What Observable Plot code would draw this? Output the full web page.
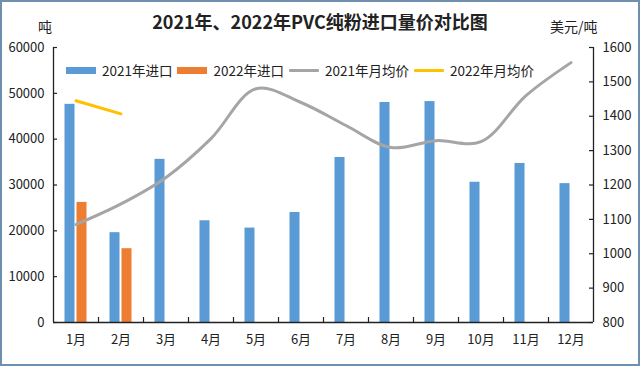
<!DOCTYPE html>
<html><head><meta charset="utf-8">
<script src="https://cdn.jsdelivr.net/npm/d3@7"></script>
<script src="https://cdn.jsdelivr.net/npm/@observablehq/plot@0.6"></script>
<style>
html,body{margin:0;padding:0;background:#fff;}
#wrap{position:relative;width:640px;height:366px;overflow:hidden;font-family:"Noto Sans CJK SC","Noto Sans",sans-serif;color:#222;}
#border{position:absolute;left:0;top:0;width:636px;height:362px;border:2px solid #6f8fae;pointer-events:none;}
#chart{position:absolute;left:0;top:0;}
#title{position:absolute;left:0;width:640px;top:8px;text-align:center;font-weight:bold;font-size:18px;line-height:26px;}
.unit{position:absolute;top:16px;font-size:14px;line-height:20px;}
#legend{position:absolute;left:66px;top:60px;display:flex;align-items:center;font-size:13.5px;line-height:20px;}
#legend .sw{width:30px;height:7px;margin-right:6px;}
#legend .ln{width:30px;height:3px;margin-right:6px;border-radius:1px;}
#legend span.t{margin-right:5px;white-space:nowrap;}
</style></head>
<body>
<div id="wrap">
  <div id="chart"></div>
  <div id="title">2021年、2022年PVC纯粉进口量价对比图</div>
  <div class="unit" style="left:38px">吨</div>
  <div class="unit" style="left:550px">美元/吨</div>
  <div id="legend"></div>
  <div id="border"></div>
</div>
<script>
const months = ["1月","2月","3月","4月","5月","6月","7月","8月","9月","10月","11月","12月"];
const import2021 = [47600,19600,35600,22200,20600,24000,36000,48000,48200,30600,34700,30300];
const import2022 = [26200,16100];
const price2021 = [1085,1145,1222,1335,1480,1440,1373,1309,1329,1326,1460,1556];
const price2022 = [1445,1407];
const leftTicks = [0,10000,20000,30000,40000,50000,60000];
const rightTicks = [800,900,1000,1100,1200,1300,1400,1500,1600];
const seriesNames = ["2021年进口","2022年进口","2021年月均价","2022年月均价"];
const colors = ["#5B9BD5","#ED7D31","#A5A5A5","#FFC000"];

const toY = p => (p - 800) * 75;
const fromY = v => v / 75 + 800;

const bars21 = months.map((m,i)=>({m, v: import2021[i]}));
const bars22 = import2022.map((v,i)=>({m: months[i], v}));
const line21 = months.map((m,i)=>({m, p: price2021[i]}));
const line22 = price2022.map((p,i)=>({m: months[i], p}));

const axisColor = "#222";
const font = '"Noto Sans CJK SC","Noto Sans",sans-serif';

const plot = Plot.plot({
  width: 640, height: 366,
  marginLeft: 53, marginRight: 47, marginTop: 47, marginBottom: 44,
  style: {fontFamily: font, fontSize: "13px", color: "#222", background: "transparent", overflow: "visible"},
  x: {type: "band", domain: months, padding: 0, axis: null},
  y: {domain: [0, 60000], axis: null},
  marks: [
    Plot.barY(bars21, {x: "m", y: "v", fill: colors[0], insetLeft: 11.5, insetRight: 23.5}),
    Plot.barY(bars22, {x: "m", y: "v", fill: colors[1], insetLeft: 23.5, insetRight: 11.5}),
    Plot.line(line21, {x: "m", y: d => toY(d.p), stroke: colors[2], strokeWidth: 3, curve: "catmull-rom"}),
    Plot.line(line22, {x: "m", y: d => toY(d.p), stroke: colors[3], strokeWidth: 3}),
    // axis lines
    Plot.ruleY([0], {stroke: axisColor, strokeWidth: 1.3}),
    Plot.ruleX([months[0]], {x: d => d, dx: -22.5, stroke: axisColor, strokeWidth: 1.3}),
    Plot.ruleX([months[11]], {x: d => d, dx: 22.5, stroke: axisColor, strokeWidth: 1.3}),
    // inward ticks
    Plot.ruleX(months.slice(1), {x: d => d, dx: -22.5, insetTop: 270, stroke: axisColor, strokeWidth: 1.2}),
    Plot.ruleY(leftTicks, {y: d => d, insetRight: 536, stroke: axisColor, strokeWidth: 1.2}),
    Plot.ruleY(rightTicks, {y: d => toY(d), insetLeft: 536, stroke: axisColor, strokeWidth: 1.2}),
    // tick labels
    Plot.axisY({anchor: "left", ticks: leftTicks, tickFormat: d => String(d), tickSize: 0, tickPadding: 9, fontSize: 13, label: null}),
    Plot.axisY({anchor: "right", ticks: rightTicks.map(toY), tickFormat: v => String(Math.round(fromY(v))), tickSize: 0, tickPadding: 9, fontSize: 13, label: null}),
    Plot.axisX({ticks: months, tickSize: 0, tickPadding: 12, fontSize: 13, label: null})
  ]
});
document.getElementById("chart").appendChild(plot);

const legend = document.getElementById("legend");
seriesNames.forEach((name,i)=>{
  const sw = document.createElement("div");
  sw.className = i < 2 ? "sw" : "ln";
  sw.style.background = colors[i];
  legend.appendChild(sw);
  const t = document.createElement("span");
  t.className = "t";
  t.textContent = name;
  legend.appendChild(t);
});
</script>
</body></html>
